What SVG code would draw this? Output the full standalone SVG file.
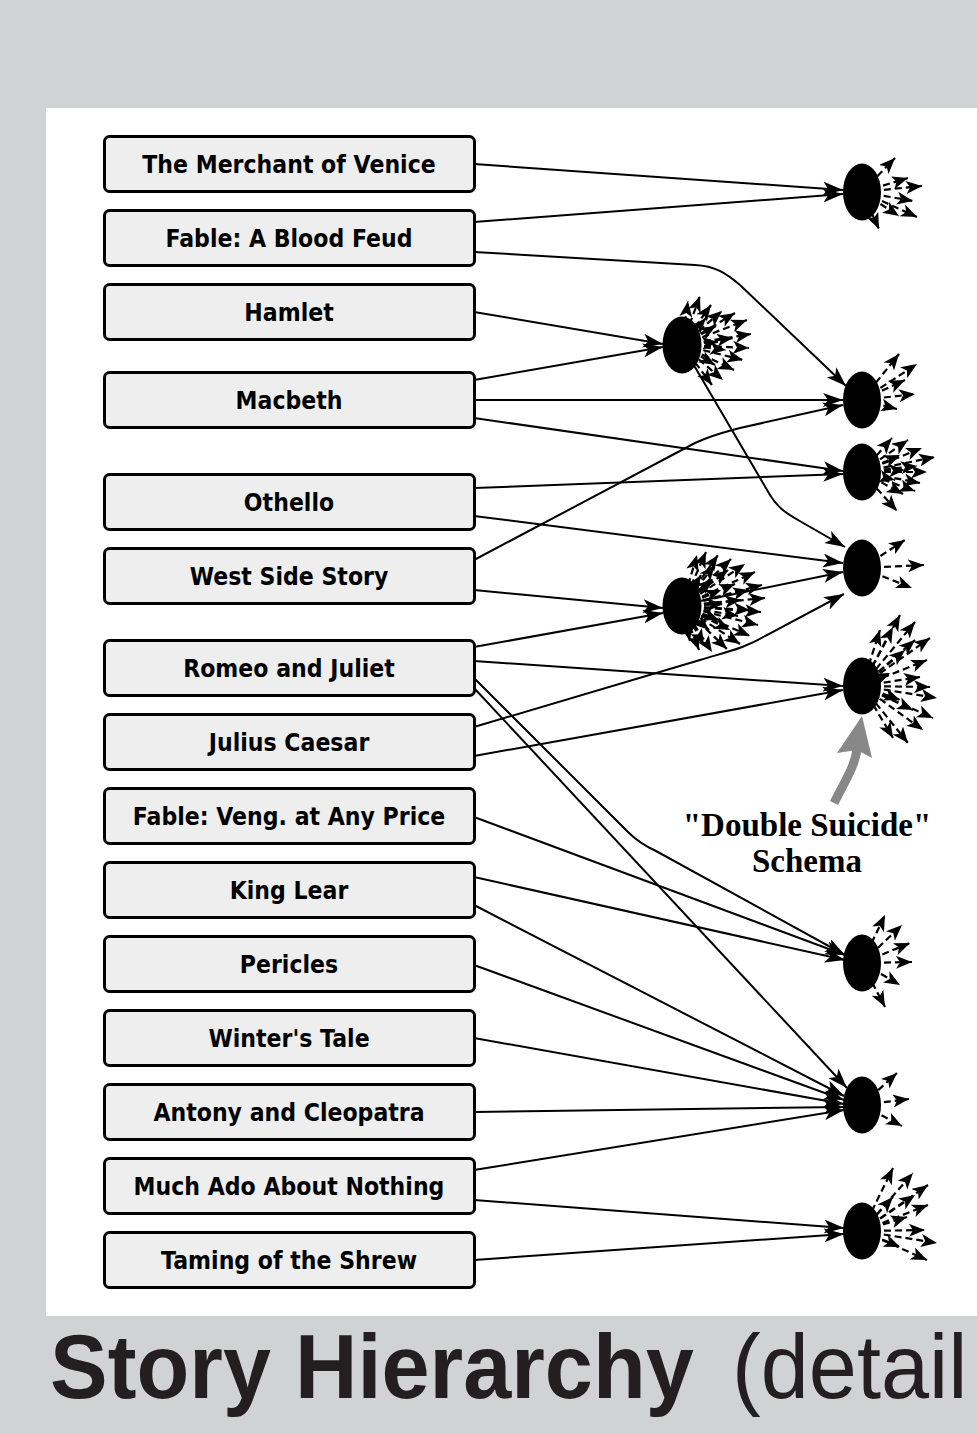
<svg xmlns="http://www.w3.org/2000/svg" width="977" height="1434" viewBox="0 0 977 1434">
<style>
.box{fill:#eeeeee;stroke:#000;stroke-width:3}
.lbl{font-family:"DejaVu Sans",sans-serif;font-weight:bold;font-size:24px;fill:#000;text-anchor:middle}
.con{fill:none;stroke:#000;stroke-width:2;marker-end:url(#ah)}
.fan line{stroke:#000;stroke-width:2.2;stroke-dasharray:7 4;marker-end:url(#fh)}
.blob{fill:#000}
.note{font-family:"Liberation Serif","Times New Roman",serif;font-weight:bold;font-size:33px;fill:#000;text-anchor:middle}
</style>
<defs>
<marker id="ah" markerUnits="userSpaceOnUse" markerWidth="20" markerHeight="14" refX="20" refY="7" orient="auto" viewBox="0 0 20 14">
<path d="M0,0 L20,7 L0,14 L5,7 z" fill="#000"/>
</marker>
<marker id="fh" markerUnits="userSpaceOnUse" markerWidth="16" markerHeight="13" refX="16" refY="6.5" orient="auto" viewBox="0 0 16 13">
<path d="M0,0 L16,6.5 L0,13 L4,6.5 z" fill="#000"/>
</marker>
</defs>
<rect x="0" y="0" width="977" height="1434" fill="#d1d2d4"/>
<rect x="46" y="108" width="931" height="1208" fill="#ffffff"/>

<g id="connectors">
<path class="con" d="M474,164 L843,190"/>
<path class="con" d="M474,222 L843,194"/>
<path class="con" d="M474,252 L695,265 C715,266 726,273 740,285 L846,386"/>
<path class="con" d="M474,312 L663,344"/>
<path class="con" d="M474,380 L663,347"/>
<path class="con" d="M474,400 L843,400"/>
<path class="con" d="M474,418 L843,471"/>
<path class="con" d="M474,488 L843,474"/>
<path class="con" d="M474,516 L843,563"/>
<path class="con" d="M474,560 L695,443 C712,435 725,432 740,428 L843,405"/>
<path class="con" d="M474,590 L663,608"/>
<path class="con" d="M692,362 L770,495 C778,508 786,513 798,520 L845,547"/>
<path class="con" d="M690,603 L843,572"/>
<path class="con" d="M474,727 L700,660 C730,651 745,648 765,636 L844,594"/>
<path class="con" d="M474,647 L663,613"/>
<path class="con" d="M474,661 L843,686"/>
<path class="con" d="M474,756 L843,690"/>
<path class="con" d="M474,678 L628,832 C636,840 645,846 656,851 L845,955"/>
<path class="con" d="M474,688 L847,1088"/>
<path class="con" d="M474,817 L845,955"/>
<path class="con" d="M474,877 L845,960"/>
<path class="con" d="M474,905 L844,1096"/>
<path class="con" d="M474,965 L844,1100"/>
<path class="con" d="M474,1038 L844,1104"/>
<path class="con" d="M474,1112 L844,1107"/>
<path class="con" d="M474,1170 L844,1110"/>
<path class="con" d="M474,1200 L844,1228"/>
<path class="con" d="M474,1260 L844,1234"/>
</g>

<g id="blobA">
<g class="fan">
<line x1="862" y1="192" x2="895" y2="158"/><line x1="862" y1="192" x2="908" y2="178"/><line x1="862" y1="192" x2="922" y2="186"/><line x1="862" y1="192" x2="913" y2="201"/><line x1="862" y1="192" x2="917" y2="217"/><line x1="862" y1="192" x2="899" y2="216"/><line x1="862" y1="192" x2="879" y2="229"/>
</g>
<ellipse class="blob" cx="862" cy="192" rx="19" ry="28.5"/>
</g>

<g id="blobB">
<g class="fan">
<line x1="682" y1="345" x2="688" y2="301"/><line x1="682" y1="345" x2="700" y2="296"/><line x1="682" y1="345" x2="711" y2="305"/><line x1="682" y1="345" x2="722" y2="311"/><line x1="682" y1="345" x2="735" y2="313"/><line x1="682" y1="345" x2="747" y2="320"/><line x1="682" y1="345" x2="751" y2="334"/><line x1="682" y1="345" x2="749" y2="348"/><line x1="682" y1="345" x2="743" y2="360"/><line x1="682" y1="345" x2="734" y2="370"/><line x1="682" y1="345" x2="723" y2="380"/><line x1="682" y1="345" x2="712" y2="385"/><line x1="682" y1="345" x2="726" y2="350"/><line x1="682" y1="345" x2="733" y2="338"/><line x1="682" y1="345" x2="716" y2="326"/><line x1="682" y1="345" x2="718" y2="342"/><line x1="682" y1="345" x2="706" y2="318"/><line x1="682" y1="345" x2="715" y2="365"/>
</g>
<ellipse class="blob" cx="682" cy="345" rx="19.5" ry="28.5"/>
</g>

<g id="blobC">
<g class="fan">
<line x1="862" y1="400" x2="899" y2="354"/><line x1="862" y1="400" x2="917" y2="364"/><line x1="862" y1="400" x2="905" y2="380"/><line x1="862" y1="400" x2="915" y2="394"/><line x1="862" y1="400" x2="897" y2="409"/>
</g>
<ellipse class="blob" cx="862" cy="400" rx="19" ry="28.5"/>
</g>

<g id="blobD">
<g class="fan">
<line x1="862" y1="472" x2="892" y2="438"/><line x1="862" y1="472" x2="908" y2="440"/><line x1="862" y1="472" x2="922" y2="448"/><line x1="862" y1="472" x2="935" y2="457"/><line x1="862" y1="472" x2="927" y2="472"/><line x1="862" y1="472" x2="917" y2="466"/><line x1="862" y1="472" x2="920" y2="483"/><line x1="862" y1="472" x2="915" y2="491"/><line x1="862" y1="472" x2="903" y2="494"/><line x1="862" y1="472" x2="897" y2="511"/><line x1="862" y1="472" x2="900" y2="455"/><line x1="862" y1="472" x2="905" y2="470"/><line x1="862" y1="472" x2="895" y2="480"/>
</g>
<ellipse class="blob" cx="862" cy="472" rx="19" ry="28.5"/>
</g>

<g id="blobE">
<g class="fan">
<line x1="862" y1="568" x2="905" y2="540"/><line x1="862" y1="568" x2="924" y2="565"/><line x1="862" y1="568" x2="912" y2="588"/>
</g>
<ellipse class="blob" cx="862" cy="568" rx="19" ry="28.5"/>
</g>

<g id="blobF">
<g class="fan">
<line x1="682" y1="606" x2="697" y2="555"/><line x1="682" y1="606" x2="706" y2="552"/><line x1="682" y1="606" x2="718" y2="555"/><line x1="682" y1="606" x2="731" y2="559"/><line x1="682" y1="606" x2="745" y2="564"/><line x1="682" y1="606" x2="755" y2="572"/><line x1="682" y1="606" x2="762" y2="585"/><line x1="682" y1="606" x2="765" y2="598"/><line x1="682" y1="606" x2="761" y2="612"/><line x1="682" y1="606" x2="758" y2="625"/><line x1="682" y1="606" x2="750" y2="636"/><line x1="682" y1="606" x2="740" y2="644"/><line x1="682" y1="606" x2="727" y2="649"/><line x1="682" y1="606" x2="712" y2="652"/><line x1="682" y1="606" x2="699" y2="650"/><line x1="682" y1="606" x2="690" y2="641"/><line x1="682" y1="606" x2="701" y2="575"/><line x1="682" y1="606" x2="713" y2="579"/><line x1="682" y1="606" x2="721" y2="590"/><line x1="682" y1="606" x2="723" y2="604"/><line x1="682" y1="606" x2="719" y2="620"/><line x1="682" y1="606" x2="709" y2="630"/><line x1="682" y1="606" x2="735" y2="584"/><line x1="682" y1="606" x2="741" y2="600"/><line x1="682" y1="606" x2="738" y2="616"/><line x1="682" y1="606" x2="749" y2="590"/><line x1="682" y1="606" x2="750" y2="610"/><line x1="682" y1="606" x2="728" y2="570"/><line x1="682" y1="606" x2="715" y2="565"/><line x1="682" y1="606" x2="704" y2="645"/><line x1="682" y1="606" x2="730" y2="630"/>
</g>
<ellipse class="blob" cx="682" cy="606" rx="19.5" ry="28.5"/>
</g>

<g id="blobG">
<g class="fan">
<line x1="862" y1="686" x2="893" y2="627"/><line x1="862" y1="686" x2="900" y2="615"/><line x1="862" y1="686" x2="915" y2="622"/><line x1="862" y1="686" x2="930" y2="638"/><line x1="862" y1="686" x2="905" y2="650"/><line x1="862" y1="686" x2="927" y2="660"/><line x1="862" y1="686" x2="920" y2="677"/><line x1="862" y1="686" x2="890" y2="673"/><line x1="862" y1="686" x2="930" y2="687"/><line x1="862" y1="686" x2="937" y2="698"/><line x1="862" y1="686" x2="900" y2="700"/><line x1="862" y1="686" x2="913" y2="710"/><line x1="862" y1="686" x2="933" y2="718"/><line x1="862" y1="686" x2="923" y2="730"/><line x1="862" y1="686" x2="908" y2="743"/><line x1="862" y1="686" x2="893" y2="738"/><line x1="862" y1="686" x2="880" y2="630"/><line x1="862" y1="686" x2="915" y2="640"/>
</g>
<ellipse class="blob" cx="862" cy="686" rx="19" ry="28.5"/>
</g>

<g id="blobH">
<g class="fan">
<line x1="862" y1="963" x2="885" y2="915"/><line x1="862" y1="963" x2="902" y2="925"/><line x1="862" y1="963" x2="910" y2="943"/><line x1="862" y1="963" x2="912" y2="962"/><line x1="862" y1="963" x2="900" y2="985"/><line x1="862" y1="963" x2="885" y2="1007"/>
</g>
<ellipse class="blob" cx="862" cy="963" rx="19" ry="28.5"/>
</g>

<g id="blobI">
<g class="fan">
<line x1="862" y1="1105" x2="897" y2="1073"/><line x1="862" y1="1105" x2="909" y2="1099"/><line x1="862" y1="1105" x2="902" y2="1126"/>
</g>
<ellipse class="blob" cx="862" cy="1105" rx="19" ry="28.5"/>
</g>

<g id="blobJ">
<g class="fan">
<line x1="862" y1="1231" x2="893" y2="1168"/><line x1="862" y1="1231" x2="913" y2="1173"/><line x1="862" y1="1231" x2="928" y2="1185"/><line x1="862" y1="1231" x2="928" y2="1205"/><line x1="862" y1="1231" x2="907" y2="1217"/><line x1="862" y1="1231" x2="925" y2="1230"/><line x1="862" y1="1231" x2="937" y2="1243"/><line x1="862" y1="1231" x2="927" y2="1260"/><line x1="862" y1="1231" x2="900" y2="1247"/><line x1="862" y1="1231" x2="893" y2="1197"/><line x1="862" y1="1231" x2="915" y2="1195"/>
</g>
<ellipse class="blob" cx="862" cy="1231" rx="19" ry="28.5"/>
</g>

<g id="n1"><rect class="box" x="104.5" y="136.5" width="370" height="55" rx="5"/><text class="lbl" transform="translate(289,173) scale(0.92,1)">The Merchant of Venice</text></g>
<g id="n2"><rect class="box" x="104.5" y="210.5" width="370" height="55" rx="5"/><text class="lbl" transform="translate(289,247) scale(0.92,1)">Fable: A Blood Feud</text></g>
<g id="n3"><rect class="box" x="104.5" y="284.5" width="370" height="55" rx="5"/><text class="lbl" transform="translate(289,321) scale(0.92,1)">Hamlet</text></g>
<g id="n4"><rect class="box" x="104.5" y="372.5" width="370" height="55" rx="5"/><text class="lbl" transform="translate(289,409) scale(0.92,1)">Macbeth</text></g>
<g id="n5"><rect class="box" x="104.5" y="474.5" width="370" height="55" rx="5"/><text class="lbl" transform="translate(289,511) scale(0.92,1)">Othello</text></g>
<g id="n6"><rect class="box" x="104.5" y="548.5" width="370" height="55" rx="5"/><text class="lbl" transform="translate(289,585) scale(0.92,1)">West Side Story</text></g>
<g id="n7"><rect class="box" x="104.5" y="640.5" width="370" height="55" rx="5"/><text class="lbl" transform="translate(289,677) scale(0.92,1)">Romeo and Juliet</text></g>
<g id="n8"><rect class="box" x="104.5" y="714.5" width="370" height="55" rx="5"/><text class="lbl" transform="translate(289,751) scale(0.92,1)">Julius Caesar</text></g>
<g id="n9"><rect class="box" x="104.5" y="788.5" width="370" height="55" rx="5"/><text class="lbl" transform="translate(289,825) scale(0.92,1)">Fable: Veng. at Any Price</text></g>
<g id="n10"><rect class="box" x="104.5" y="862.5" width="370" height="55" rx="5"/><text class="lbl" transform="translate(289,899) scale(0.92,1)">King Lear</text></g>
<g id="n11"><rect class="box" x="104.5" y="936.5" width="370" height="55" rx="5"/><text class="lbl" transform="translate(289,973) scale(0.92,1)">Pericles</text></g>
<g id="n12"><rect class="box" x="104.5" y="1010.5" width="370" height="55" rx="5"/><text class="lbl" transform="translate(289,1047) scale(0.92,1)">Winter's Tale</text></g>
<g id="n13"><rect class="box" x="104.5" y="1084.5" width="370" height="55" rx="5"/><text class="lbl" transform="translate(289,1121) scale(0.92,1)">Antony and Cleopatra</text></g>
<g id="n14"><rect class="box" x="104.5" y="1158.5" width="370" height="55" rx="5"/><text class="lbl" transform="translate(289,1195) scale(0.92,1)">Much Ado About Nothing</text></g>
<g id="n15"><rect class="box" x="104.5" y="1232.5" width="370" height="55" rx="5"/><text class="lbl" transform="translate(289,1269) scale(0.92,1)">Taming of the Shrew</text></g>

<g id="annotation">
<path d="M834,803 C845,781 854,768 857,750" fill="none" stroke="#888888" stroke-width="9"/>
<polygon points="837,753 862,716 872,758 857,750" fill="#888888"/>
<text class="note" x="807" y="836">"Double Suicide"</text>
<text class="note" x="807" y="872">Schema</text>
</g>

<g id="title">
<text transform="translate(50,1398) scale(0.95,1)" font-family="Liberation Sans, Arial, sans-serif" font-weight="bold" font-size="91" fill="#231f20">Story Hierarchy</text>
<text transform="translate(732,1398) scale(0.95,1)" font-family="Liberation Sans, Arial, sans-serif" font-size="91" fill="#231f20">(detail</text>
</g>
</svg>
